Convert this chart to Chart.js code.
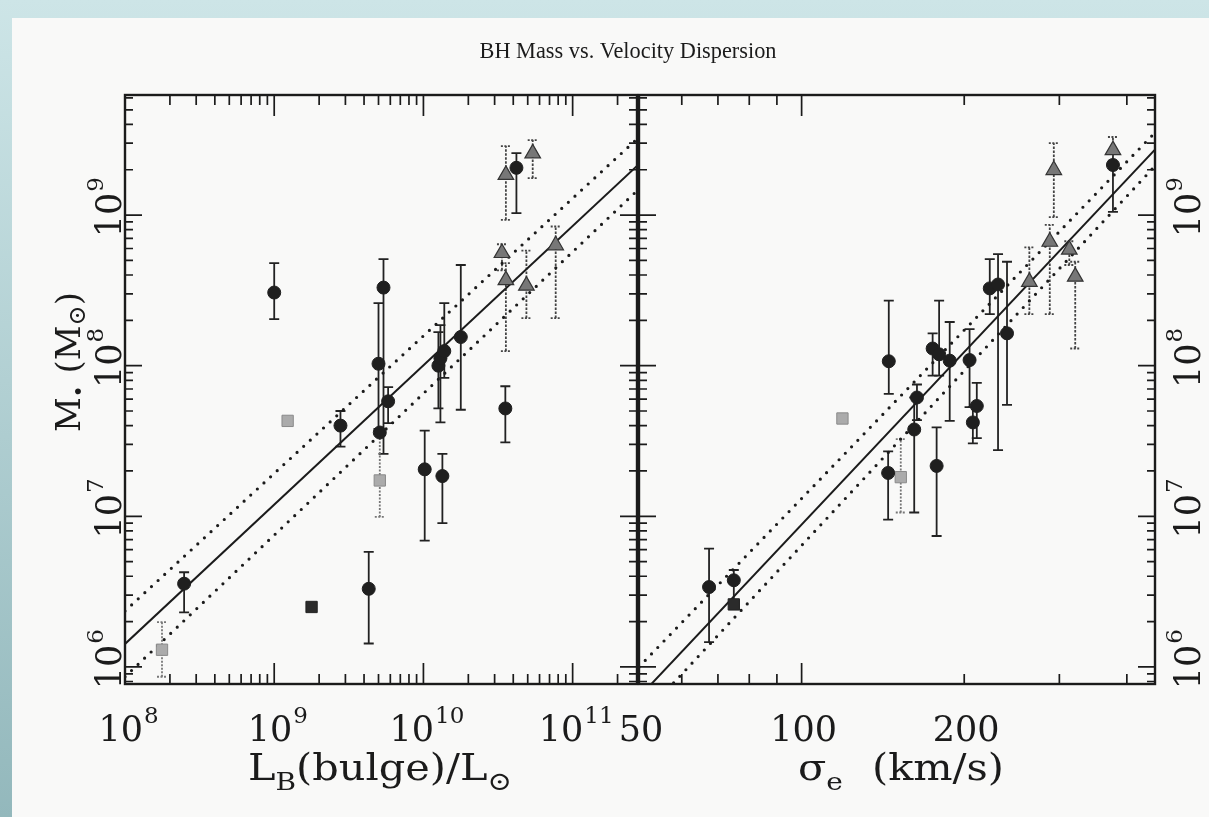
<!DOCTYPE html>
<html>
<head>
<meta charset="utf-8">
<script src="https://cdn.jsdelivr.net/npm/chart.js@4.4.1/dist/chart.umd.min.js"></script>
<style>
html, body { margin: 0; padding: 0; }
body { width: 1209px; height: 817px; overflow: hidden; position: relative;
       background: linear-gradient(to bottom, #cde5e7, #93b8bc); }
#paper { position: absolute; left: 12px; top: 18px; right: 0; bottom: 0; background: #f9f9f8; }
canvas { position: absolute; left: 0; top: 0; }
</style>
</head>
<body>
<div id="paper"></div>
<canvas id="lumChart" width="1209" height="817"></canvas>
<canvas id="sigChart" width="1209" height="817"></canvas>
<script>
// ---- left panel: bulge luminosity ----
const lumCircX  = [2.49e8, 1.0e9, 2.78e9, 4.3e9, 5.0e9, 5.1e9, 5.4e9, 5.8e9, 1.02e10, 1.26e10, 1.3e10, 1.38e10, 1.34e10, 1.78e10, 3.54e10, 4.2e10];
const lumCircY  = [3.57e6, 3.06e8, 4.0e7, 3.3e6, 1.03e8, 3.6e7, 3.3e8, 5.8e7, 2.05e7, 1.0e8, 1.12e8, 1.25e8, 1.85e7, 1.55e8, 5.2e7, 2.06e9];
const lumCircLo = [2.3e6, 2.04e8, 2.9e7, 1.43e6, 3.8e7, null, 2.6e7, 4.15e7, 6.9e6, 5.2e7, 4.2e7, 8.3e7, 9.0e6, 5.1e7, 3.1e7, 1.03e9];
const lumCircHi = [4.25e6, 4.8e8, 5.0e7, 5.8e6, 2.6e8, null, 5.1e8, 7.2e7, 3.7e7, 1.67e8, 1.86e8, 2.6e8, 2.6e7, 4.66e8, 7.3e7, 2.58e9];

const lumTriX  = [3.36e10, 3.57e10, 3.57e10, 4.9e10, 5.4e10, 7.7e10];
const lumTriY  = [5.6e8, 3.7e8, 1.85e9, 3.4e8, 2.57e9, 6.3e8];
const lumTriLo = [4.3e8, 1.25e8, 9.3e8, 2.07e8, 1.76e9, 2.07e8];
const lumTriHi = [6.4e8, 4.8e8, 2.87e9, 5.8e8, 3.15e9, 8.4e8];

const lumGrayX  = [1.77e8, 1.23e9, 5.1e9];
const lumGrayY  = [1.3e6, 4.3e7, 1.73e7];
const lumGrayLo = [8.6e5, null, 9.9e6];
const lumGrayHi = [1.98e6, null, 3.6e7];

const lumDarkX = [1.78e9];
const lumDarkY = [2.5e6];

const lumFitX   = [1e8, 2.7e11];
const lumFitY   = [1.42e6, 2.12e9];
const lumUpperY = [2.35e6, 3.2e9];
const lumLowerY = [8.6e5, 1.45e9];

// ---- right panel: velocity dispersion ----
const sigCircX  = [67.4, 74.9, 145, 144.6, 161.6, 163.5, 174.8, 177.8, 179.7, 188, 204.6, 207.5, 211, 223, 231, 240, 377];
const sigCircY  = [3.39e6, 3.76e6, 1.07e8, 1.94e7, 3.77e7, 6.15e7, 1.3e8, 2.16e7, 1.19e8, 1.08e8, 1.09e8, 4.2e7, 5.4e7, 3.26e8, 3.46e8, 1.64e8, 2.15e9];
const sigCircLo = [1.46e6, 2.6e6, 6.5e7, 9.5e6, 1.06e7, 4.35e7, 8.6e7, 7.4e6, 8.6e7, 4.3e7, 5.3e7, 3.05e7, 3.3e7, 2.2e8, 2.75e7, 5.5e7, 1.05e9];
const sigCircHi = [6.1e6, 4.4e6, 2.7e8, 2.7e7, 6.15e7, 7.5e7, 1.64e8, 3.9e7, 2.7e8, 1.95e8, 1.75e8, 5.3e7, 7.7e7, 5.1e8, 5.5e8, 4.9e8, 2.6e9];

const sigTriX  = [264, 288, 293, 313, 321, 377];
const sigTriY  = [3.6e8, 6.65e8, 1.99e9, 5.9e8, 3.9e8, 2.7e9];
const sigTriLo = [2.2e8, 2.2e8, 9.7e8, 4.66e8, 1.3e8, 2.3e9];
const sigTriHi = [6.1e8, 8.6e8, 3.0e9, 6.7e8, 4.9e8, 3.3e9];

const sigGrayX  = [119, 152.6];
const sigGrayY  = [4.46e7, 1.82e7];
const sigGrayLo = [null, 1.06e7];
const sigGrayHi = [null, 3.25e7];

const sigDarkX = [74.9];
const sigDarkY = [2.6e6];

const sigFitX    = [50, 450];
const sigFitY    = [6.3e5, 2.7e9];
const sigUpperY  = [1.0e6, 3.5e9];
const sigLowerX  = [55, 450];
const sigLowerY  = [6.4e5, 2.1e9];

// ---- axes ----
const massMin = 7.7e5, massMax = 6.27e9;
const lumMin = 1e8, lumMax = 2.7e11;
const sigMin = 50, sigMax = 451;

const massTickY   = [1e6, 1e7, 1e8, 1e9];
const massTickExp = ['6', '7', '8', '9'];
const lumTickX    = [1e8, 1e9, 1e10, 1e11];
const lumTickExp  = ['8', '9', '10', '11'];
const sigTickX    = [50, 100, 200];
const sigTickText = ['50', '100', '200'];
const sigMajorX   = [100];
const sigMinorX   = [60, 70, 80, 90, 200, 300, 400];
const minorSteps  = [2, 3, 4, 5, 6, 7, 8, 9];

const ink = '#1b1b1b';
const serif = '"DejaVu Serif", serif';

function pts(xs, ys) {
    return xs.map((x, i) => ({ x: x, y: ys[i] }));
}

function decadeMinors(decades, min, max) {
    const out = [];
    decades.forEach(d => minorSteps.forEach(s => {
        const v = d * s;
        if (v > min && v < max) out.push(v);
    }));
    return out;
}

function setTicks(majors, minors) {
    return scale => {
        scale.ticks = majors.map(v => ({ value: v, major: true }))
            .concat(minors.map(v => ({ value: v, major: false })));
    };
}

// error bars drawn under the markers
const errorBars = {
    id: 'errorBars',
    beforeDatasetsDraw(chart) {
        const ctx = chart.ctx;
        const a = chart.chartArea;
        const ys = chart.scales.y;
        ctx.save();
        ctx.beginPath();
        ctx.rect(a.left, a.top, a.right - a.left, a.bottom - a.top);
        ctx.clip();
        chart.data.datasets.forEach((ds, i) => {
            if (!ds.errLo) return;
            const meta = chart.getDatasetMeta(i);
            ctx.strokeStyle = ds.errColor;
            ctx.lineWidth = 1.8;
            meta.data.forEach((pt, j) => {
                const lo = ds.errLo[j], hi = ds.errHi[j];
                if (lo == null) return;
                const y1 = ys.getPixelForValue(lo), y2 = ys.getPixelForValue(hi);
                ctx.setLineDash(ds.errDash);
                ctx.beginPath();
                ctx.moveTo(pt.x, y1);
                ctx.lineTo(pt.x, y2);
                ctx.stroke();
                ctx.setLineDash(ds.errDash.length ? [2, 1.5] : []);
                ctx.beginPath();
                ctx.moveTo(pt.x - 5, y1); ctx.lineTo(pt.x + 5, y1);
                ctx.moveTo(pt.x - 5, y2); ctx.lineTo(pt.x + 5, y2);
                ctx.stroke();
            });
        });
        ctx.restore();
    }
};

// frame with inward ticks on all four sides
function frameTicks(len) {
    return {
        id: 'frameTicks',
        afterDraw(chart) {
            const { ctx, chartArea: a } = chart;
            const xs = chart.scales.x, ys = chart.scales.y;
            ctx.save();
            ctx.strokeStyle = ink;
            ctx.lineWidth = 1.7;
            ctx.beginPath();
            xs.ticks.forEach(t => {
                const p = xs.getPixelForValue(t.value);
                const l = t.major ? len.xMajor : len.xMinor;
                ctx.moveTo(p, a.bottom); ctx.lineTo(p, a.bottom - l);
                ctx.moveTo(p, a.top); ctx.lineTo(p, a.top + l);
            });
            ys.ticks.forEach(t => {
                const p = ys.getPixelForValue(t.value);
                const l = t.major ? len.yMajor : len.yMinor;
                ctx.moveTo(a.left, p); ctx.lineTo(a.left + l, p);
                ctx.moveTo(a.right, p); ctx.lineTo(a.right - l, p);
            });
            ctx.stroke();
            ctx.lineWidth = 2.4;
            ctx.strokeRect(a.left, a.top, a.right - a.left, a.bottom - a.top);
            ctx.restore();
        }
    };
}

// "10" with a superscript; x0 is where the "10" starts
function drawPower(ctx, exp, x0, baseline) {
    ctx.font = '35px ' + serif;
    const wB = ctx.measureText('10').width;
    ctx.fillText('10', x0, baseline);
    ctx.font = '23px ' + serif;
    ctx.fillText(exp, x0 + wB + 1, baseline - 18);
}

function powerWidths(ctx, exp) {
    ctx.font = '35px ' + serif;
    const wB = ctx.measureText('10').width;
    ctx.font = '23px ' + serif;
    return { wB: wB, wE: ctx.measureText(exp).width };
}

// pieces: [text, size, dy, extra gap]
function drawPieces(ctx, pieces, x0, baseline) {
    let x = x0;
    pieces.forEach(p => {
        ctx.font = p[1] + 'px ' + serif;
        ctx.fillText(p[0], x, baseline + p[2]);
        x += ctx.measureText(p[0]).width + (p[3] || 0);
    });
}

function yLabels(ctx, scale, baseX) {
    massTickY.forEach((v, i) => {
        const p = scale.getPixelForValue(v);
        const w = powerWidths(ctx, massTickExp[i]);
        ctx.save();
        ctx.translate(baseX, p);
        ctx.rotate(-Math.PI / 2);
        drawPower(ctx, massTickExp[i], -w.wB / 2, 0);
        ctx.restore();
    });
}

const lumText = {
    id: 'lumText',
    afterDraw(chart) {
        const ctx = chart.ctx;
        const xs = chart.scales.x, ys = chart.scales.y;
        ctx.save();
        ctx.fillStyle = ink;
        ctx.textAlign = 'left';
        ctx.textBaseline = 'alphabetic';

        ctx.save();
        ctx.translate(628, 58);
        ctx.scale(0.93, 1);
        ctx.font = '24px "Liberation Serif", serif';
        ctx.textAlign = 'center';
        ctx.fillText('BH Mass vs. Velocity Dispersion', 0, 0);
        ctx.restore();

        lumTickX.forEach((v, i) => {
            const p = xs.getPixelForValue(v);
            const w = powerWidths(ctx, lumTickExp[i]);
            drawPower(ctx, lumTickExp[i], p - (w.wB + w.wE) / 2 + 3, 741);
        });
        yLabels(ctx, ys, 121);

        ctx.save();
        ctx.translate(248, 780);
        ctx.scale(1.12, 1);
        drawPieces(ctx, [['L', 37, 0], ['B', 25, 10], ['(bulge)/L', 37, 0], ['\u2299', 26, 10]], 0, 0);
        ctx.restore();

        ctx.save();
        ctx.translate(80, 432);
        ctx.rotate(-Math.PI / 2);
        drawPieces(ctx, [['M', 34, 0], ['\u2022', 20, 6, 12], ['(M', 34, 0], ['\u2299', 24, 5], [')', 34, 0]], 0, 0);
        ctx.restore();
        ctx.restore();
    }
};

const sigText = {
    id: 'sigText',
    afterDraw(chart) {
        const ctx = chart.ctx;
        const xs = chart.scales.x, ys = chart.scales.y;
        ctx.save();
        ctx.fillStyle = ink;
        ctx.textBaseline = 'alphabetic';
        ctx.font = '35px ' + serif;
        ctx.textAlign = 'center';
        sigTickX.forEach((v, i) => {
            ctx.fillText(sigTickText[i], xs.getPixelForValue(v) + 2, 741);
        });
        ctx.textAlign = 'left';
        yLabels(ctx, ys, 1200);

        ctx.save();
        ctx.translate(798, 780);
        ctx.scale(1.12, 1);
        drawPieces(ctx, [['\u03c3', 37, 0], ['e', 25, 10, 26], ['(km/s)', 37, 0]], 0, 0);
        ctx.restore();
        ctx.restore();
    }
};

function markerSets(c, t, g, d) {
    return [
        { data: pts(c.x, c.y), pointStyle: 'circle', pointRadius: 6.5, backgroundColor: '#1f1f1f', borderColor: '#1f1f1f', borderWidth: 1,
          errLo: c.lo, errHi: c.hi, errDash: [], errColor: '#222' },
        { data: pts(d.x, d.y), pointStyle: 'rect', pointRadius: 8, backgroundColor: '#2b2b2b', borderColor: '#222', borderWidth: 1 },
        { data: pts(t.x, t.y), pointStyle: 'triangle', pointRadius: 9, backgroundColor: '#777', borderColor: '#333', borderWidth: 1.2,
          errLo: t.lo, errHi: t.hi, errDash: [2.5, 1.5], errColor: '#444' },
        { data: pts(g.x, g.y), pointStyle: 'rect', pointRadius: 8, backgroundColor: '#ababab', borderColor: '#8a8a8a', borderWidth: 1,
          errLo: g.lo, errHi: g.hi, errDash: [2, 1.5], errColor: '#777' }
    ];
}

function fitLine(xs, ys, dotted) {
    return {
        data: pts(xs, ys), showLine: true, pointRadius: 0, borderColor: ink,
        borderWidth: dotted ? 3.2 : 2, borderDash: dotted ? [0, 9] : [],
        borderCapStyle: dotted ? 'round' : 'butt', fill: false
    };
}

function panelOptions(padding, xMin, xMax, xTicks) {
    return {
        responsive: false,
        animation: false,
        events: [],
        layout: { padding: padding },
        plugins: { legend: { display: false }, tooltip: { enabled: false } },
        scales: {
            x: { type: 'logarithmic', min: xMin, max: xMax, afterBuildTicks: xTicks,
                 grid: { display: false, drawTicks: false }, border: { display: false }, ticks: { display: false } },
            y: { type: 'logarithmic', min: massMin, max: massMax,
                 afterBuildTicks: setTicks(massTickY, decadeMinors([1e5, 1e6, 1e7, 1e8, 1e9], massMin, massMax)),
                 grid: { display: false, drawTicks: false }, border: { display: false }, ticks: { display: false } }
        }
    };
}

const tickLen = { xMajor: 21, xMinor: 10, yMajor: 17, yMinor: 8 };

new Chart(document.getElementById('lumChart'), {
    type: 'scatter',
    data: {
        datasets: markerSets(
            { x: lumCircX, y: lumCircY, lo: lumCircLo, hi: lumCircHi },
            { x: lumTriX, y: lumTriY, lo: lumTriLo, hi: lumTriHi },
            { x: lumGrayX, y: lumGrayY, lo: lumGrayLo, hi: lumGrayHi },
            { x: lumDarkX, y: lumDarkY }
        ).concat([
            fitLine(lumFitX, lumFitY, false),
            fitLine(lumFitX, lumUpperY, true),
            fitLine(lumFitX, lumLowerY, true)
        ])
    },
    options: panelOptions({ left: 125, top: 95, right: 1209 - 637, bottom: 817 - 684 }, lumMin, lumMax,
        setTicks(lumTickX, decadeMinors([1e8, 1e9, 1e10, 1e11], lumMin, lumMax))),
    plugins: [errorBars, frameTicks(tickLen), lumText]
});

new Chart(document.getElementById('sigChart'), {
    type: 'scatter',
    data: {
        datasets: markerSets(
            { x: sigCircX, y: sigCircY, lo: sigCircLo, hi: sigCircHi },
            { x: sigTriX, y: sigTriY, lo: sigTriLo, hi: sigTriHi },
            { x: sigGrayX, y: sigGrayY, lo: sigGrayLo, hi: sigGrayHi },
            { x: sigDarkX, y: sigDarkY }
        ).concat([
            fitLine(sigFitX, sigFitY, false),
            fitLine(sigFitX, sigUpperY, true),
            fitLine(sigLowerX, sigLowerY, true)
        ])
    },
    options: panelOptions({ left: 639, top: 95, right: 1209 - 1155, bottom: 817 - 684 }, sigMin, sigMax,
        setTicks(sigMajorX, sigMinorX)),
    plugins: [errorBars, frameTicks(tickLen), sigText]
});
</script>
</body>
</html>
